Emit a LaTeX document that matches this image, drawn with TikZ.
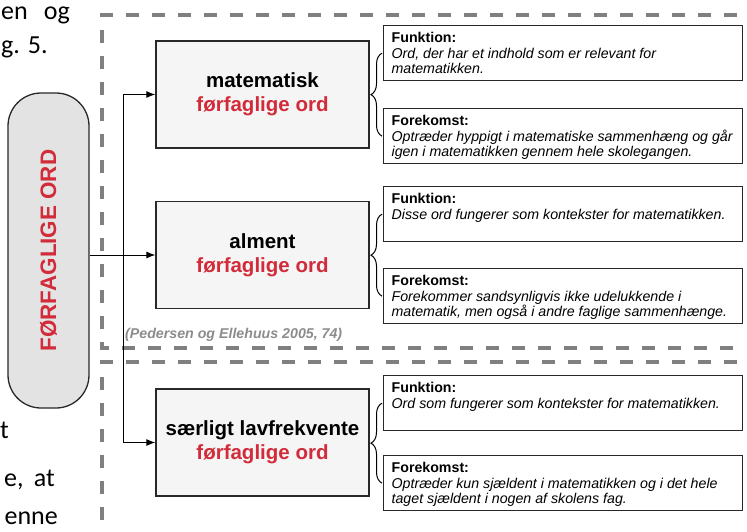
\documentclass[tikz,border=0pt]{standalone}
\usepackage{fontspec}
\setmainfont{Liberation Sans}
\newfontfamily\bodyfont{Carlito}
\usepackage{graphicx}
\usetikzlibrary{arrows.meta,decorations.pathreplacing}
\definecolor{fred}{RGB}{210,43,58}
\definecolor{dgray}{RGB}{128,128,128}
\definecolor{cgray}{RGB}{140,140,140}
\definecolor{bord}{RGB}{40,40,40}
\newcommand{\infotxt}[2]{\parbox[c][41pt][t]{343pt}{\raggedright\textbf{#1}\\{\itshape #2}}}
\begin{document}
\begin{tikzpicture}[x=1pt,y=-1pt,
  midbox/.style={draw=bord, line width=1.3pt, fill=black!4, minimum width=213pt, minimum height=107pt, align=center, font=\bfseries\fontsize{20.5}{24}\selectfont, inner sep=0pt},
  infobox/.style={draw=bord, line width=1.3pt, anchor=north west, inner xsep=8pt, inner ysep=7pt, font=\fontsize{14.2}{15.5}\selectfont},
  conn/.style={line width=1pt, -{Latex[length=9pt,width=7pt]}},
  frame/.style={draw=dgray, line width=3.5pt, dash pattern=on 13pt off 13pt},
  brc/.style={decorate, decoration={brace, amplitude=11pt}, line width=1pt},
  bodytxt/.style={anchor=base east, font=\bodyfont\fontsize{26}{30}\selectfont, inner sep=0pt}
]
\useasboundingbox (0,0) rectangle (747,531);
% dashed frames
\draw[frame] (737,15) -- (102,15) -- (102,348) -- (737,348);
\draw[frame] (737,362) -- (102,362) -- (102,545);
% body text fragments
\node[bodytxt] (t1a) at (28,19) {en};
\node[bodytxt] (t1b) at (70,19) {og};
\node[bodytxt, anchor=base west] (t2) at (1,53) {g. 5.};
\node[bodytxt] (t3) at (9,438) {t};
\node[bodytxt, anchor=base west] (t4a) at (4,486) {e,};
\node[bodytxt] (t4b) at (55,486) {at};
\node[bodytxt] (t5) at (58,524) {enne};
% left node
\node[draw=bord, line width=1.3pt, fill=black!11, rounded corners=33pt, minimum width=81pt, minimum height=315pt, inner sep=0pt] (L) at (48.5,250.5)
  {\rotatebox{90}{\bfseries\fontsize{22.4}{26}\selectfont\color{fred}FØRFAGLIGE ORD}};
% middle boxes
\node[midbox] (B1) at (262.5,94.5) {matematisk\\\textcolor{fred}{førfaglige ord}};
\node[midbox] (B2) at (262.5,255) {alment\\\textcolor{fred}{førfaglige ord}};
\node[midbox] (B3) at (262.5,442.5) {særligt lavfrekvente\\\textcolor{fred}{førfaglige ord}};
% info boxes
\node[infobox] (F1) at (383,25) {\infotxt{Funktion:}{Ord, der har et indhold som er relevant for\\matematikken.}};
\node[infobox] (K1) at (383,108) {\infotxt{Forekomst:}{Optræder hyppigt i matematiske sammenhæng og går\\igen i matematikken gennem hele skolegangen.}};
\node[infobox] (F2) at (383,186) {\infotxt{Funktion:}{Disse ord fungerer som kontekster for matematikken.}};
\node[infobox] (K2) at (383,268) {\infotxt{Forekomst:}{Forekommer sandsynligvis ikke udelukkende i\\matematik, men også i andre faglige sammenhænge.}};
\node[infobox] (F3) at (383,375) {\infotxt{Funktion:}{Ord som fungerer som kontekster for matematikken.}};
\node[infobox] (K3) at (383,455) {\infotxt{Forekomst:}{Optræder kun sjældent i matematikken og i det hele\\taget sjældent i nogen af skolens fag.}};
% braces
\draw[brc] ([xshift=-1pt]K1.west) -- ([xshift=-1pt]F1.west);
\draw[brc] ([xshift=-1pt]K2.west) -- ([xshift=-1pt]F2.west);
\draw[brc] ([xshift=-1pt]K3.west) -- ([xshift=-1pt]F3.west);
% citation
\node[anchor=base west, inner sep=0pt, text=cgray, font=\bfseries\itshape\fontsize{14.2}{16}\selectfont] (cit) at (125,338) {(Pedersen og Ellehuus 2005, 74)};
% connectors
\coordinate (j) at (123,255);
\draw[conn] (L.east |- B2.west) -- (B2.west);
\draw[conn] (j) |- (B1.west);
\draw[conn] (j) |- (B3.west);
\end{tikzpicture}
\end{document}
